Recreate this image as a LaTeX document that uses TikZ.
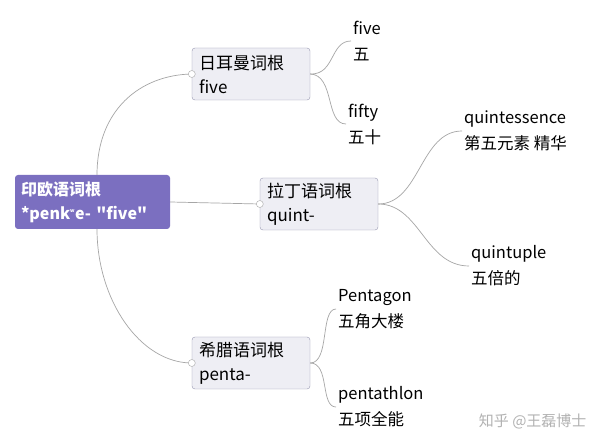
\documentclass[tikz,border=0pt]{standalone}
\usepackage{fontspec}
\setmainfont{Liberation Sans}
\newfontfamily\cjk{Noto Sans CJK SC}
\begin{document}
\begin{tikzpicture}[x=1pt,y=-1pt,
 br/.style={draw={rgb,255:red,150;green,150;blue,175},fill={rgb,255:red,238;green,238;blue,244},rounded corners=3pt,minimum width=118pt,minimum height=52pt,align=left,text width=104pt,inner xsep=7pt,inner ysep=2pt,font=\cjk\fontsize{17}{24}\selectfont},
 leaf/.style={anchor=west,align=left,inner sep=2pt,font=\cjk\fontsize{16.5}{26}\selectfont},
 ln/.style={draw=gray!70,line width=0.7pt},
 knob/.style={circle,draw=gray!70,fill=white,inner sep=0pt,minimum size=7pt}]
\fill[white] (0,0) rectangle (600,446);
\node[fill={rgb,255:red,123;green,111;blue,192},rounded corners=3pt,minimum width=155pt,minimum height=54pt,text width=143pt,inner xsep=5pt,inner ysep=2pt,align=left,text=white,font=\cjk\bfseries\fontsize{16}{24}\selectfont] (root) at (92.5,202) {印欧语词根\\{}*penk\textsuperscript{\tiny w}e- "five"};
\node[br] (de) at (251,74) {日耳曼词根\\five};
\node[br] (la) at (319,204) {拉丁语词根\\quint-};
\node[br] (gr) at (251,363) {希腊语词根\\penta-};
\coordinate (rt) at (97,175);
\coordinate (rb) at (97,229);
\draw[ln] (rt) .. controls (97,110) and (140,75) .. (de.west);
\draw[ln] (rb) .. controls (97,300) and (140,363) .. (gr.west);
\draw[ln] (root.east) -- (la.west);
\node[knob] at (de.west) {}; \node[knob] at (la.west) {}; \node[knob] at (gr.west) {};
\node[leaf] (l1) at (351,41) {five\\五};
\node[leaf] (l2) at (346,124) {fifty\\五十};
\node[leaf] (l3) at (462,131) {quintessence\\第五元素 精华};
\node[leaf] (l4) at (469,266) {quintuple\\五倍的};
\node[leaf] (l5) at (336,309) {Pentagon\\五角大楼};
\node[leaf] (l6) at (336,407) {pentathlon\\五项全能};
\draw[ln] (de.east) .. controls (335,75) and (330,41) .. (l1.west);
\draw[ln] (de.east) .. controls (335,75) and (325,124) .. (l2.west);
\draw[ln] (la.east) .. controls (420,204) and (420,131) .. (l3.west);
\draw[ln] (la.east) .. controls (420,204) and (425,266) .. (l4.west);
\draw[ln] (gr.east) .. controls (330,363) and (320,309) .. (l5.west);
\draw[ln] (gr.east) .. controls (330,363) and (320,407) .. (l6.west);
\node[anchor=east,text=gray!60,font=\cjk\fontsize{15}{16}\selectfont] (wm) at (590,421) {知乎 @王磊博士};
\end{tikzpicture}
\end{document}
